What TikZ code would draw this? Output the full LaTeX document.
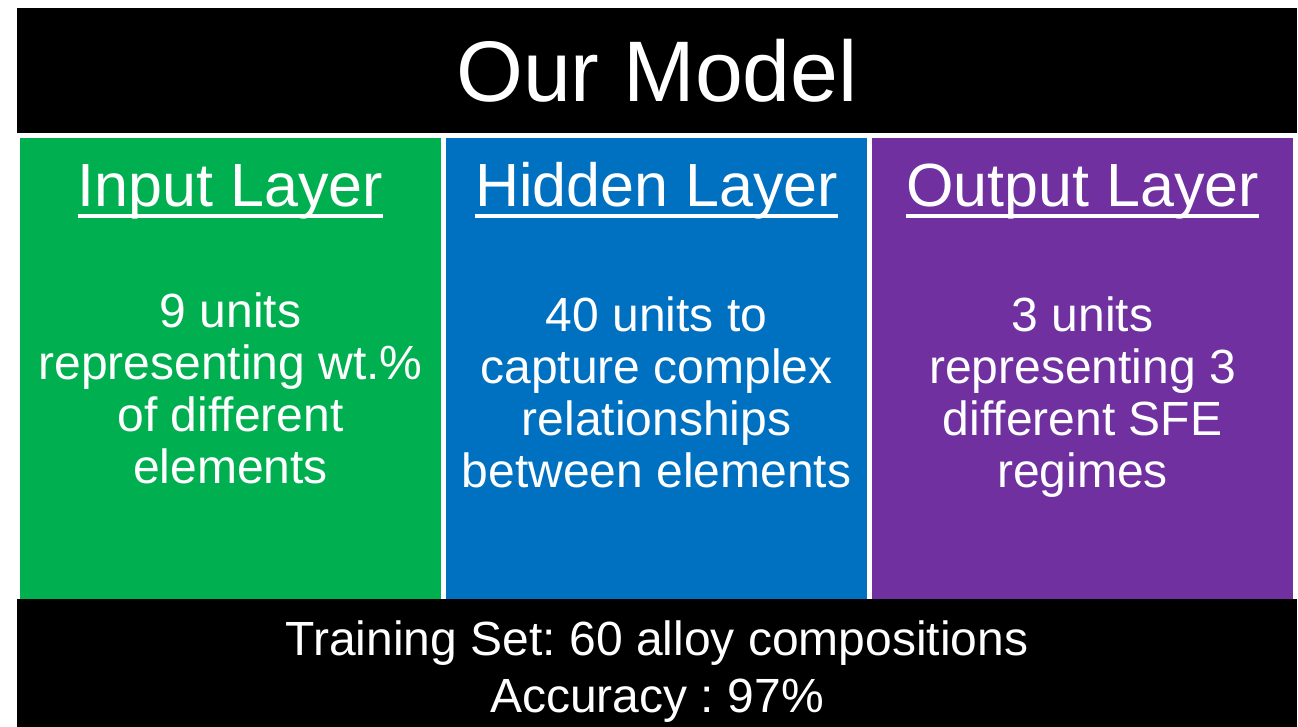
\documentclass[tikz,border=0pt]{standalone}
\usepackage{fontspec}
\setmainfont{Liberation Sans}
\frenchspacing
\definecolor{layergreen}{HTML}{00B050}
\definecolor{layerblue}{HTML}{0070C0}
\definecolor{layerpurple}{HTML}{7030A0}
\tikzset{
  band/.style={fill=black, draw=none},
  panel/.style={draw=none},
  titletext/.style={text=white, inner sep=0pt, anchor=base, font=\fontsize{86}{96}\selectfont},
  headtext/.style={text=white, inner sep=0pt, anchor=base, font=\fontsize{61}{70}\selectfont},
  bodytext/.style={text=white, inner sep=0pt, anchor=base, font=\fontsize{48}{52}\selectfont},
  ruleline/.style={white, line width=3.5pt},
}
\begin{document}
\begin{tikzpicture}[x=1pt, y=-1pt]
  % canvas
  \fill[white] (0,0) rectangle (1298,727);
  \useasboundingbox (0,0) rectangle (1298,727);

  % title band and bottom band
  \fill[band] (17,8) rectangle (1297,133);
  \fill[band] (17,599) rectangle (1297,727);

  % three layer panels
  \fill[panel, layergreen]  (20,138)  rectangle (441,599);
  \fill[panel, layerblue]   (446,138) rectangle (867,599);
  \fill[panel, layerpurple] (872,138) rectangle (1293,599);

  % title
  \node[titletext] (title) at (657,102) {Our Model};

  % headers with underlines
  \node[headtext] (hin)  at (230.5,207)  {Input Layer};
  \node[headtext] (hhid) at (656.5,207)  {Hidden Layer};
  \node[headtext] (hout) at (1082.5,207) {Output Layer};
  \foreach \h in {hin,hhid,hout}
    \draw[ruleline] ([yshift=-9pt]\h.base west) -- ([yshift=-9pt]\h.base east);

  % input layer text
  \node[bodytext] (in1) at (230.5,327) {9 units};
  \node[bodytext] (in2) at (230.5,379) {representing wt.\%};
  \node[bodytext] (in3) at (230.5,431) {of different};
  \node[bodytext] (in4) at (230.5,483) {elements};

  % hidden layer text
  \node[bodytext] (hd1) at (656.5,331) {40 units to};
  \node[bodytext] (hd2) at (656.5,383) {capture complex};
  \node[bodytext] (hd3) at (656.5,435) {relationships};
  \node[bodytext] (hd4) at (656.5,487) {between elements};

  % output layer text
  \node[bodytext] (ot1) at (1082.5,331) {3 units};
  \node[bodytext] (ot2) at (1082.5,383) {representing 3};
  \node[bodytext] (ot3) at (1082.5,435) {different SFE};
  \node[bodytext] (ot4) at (1082.5,487) {regimes};

  % training summary
  \node[bodytext] (tr1) at (657,655) {Training Set: 60 alloy compositions};
  \node[bodytext] (tr2) at (657,712) {Accuracy : 97\%};
\end{tikzpicture}
\end{document}
